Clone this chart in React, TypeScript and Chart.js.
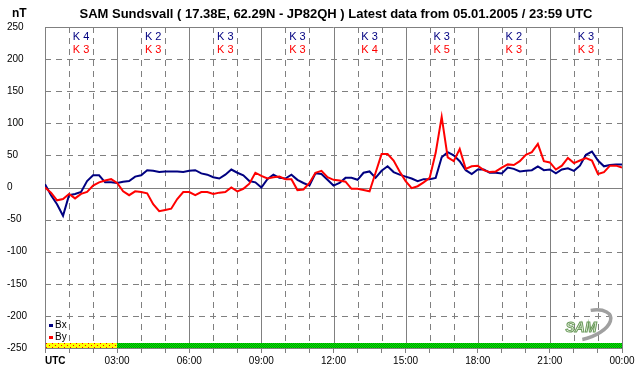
import React, { useEffect, useRef } from 'react';
import { Chart, registerables } from 'chart.js';

Chart.register(...registerables);

const FONT = '"Liberation Sans", Arial, sans-serif';

// Samples every 15 minutes, 00:00 .. 24:00 UTC (nT)
const bxValues = [
  5, -12, -26, -44, -12, -10, -7, 10, 19, 19, 8, 8, 7, 9, 10, 17,
  19, 27, 26, 24, 25, 25, 25, 24, 26, 27, 22, 20, 16, 14, 20, 28,
  23, 19, 10, 8, 0, 13, 20, 15, 14, 20, 12, 7, 3, 22, 21, 12,
  3, 7, 15, 15, 12, 23, 25, 15, 26, 33, 24, 20, 17, 14, 10, 13,
  13, 15, 47, 55, 50, 41, 27, 21, 28, 28, 23, 23, 22, 31, 29, 25,
  26, 27, 33, 27, 28, 22, 28, 30, 26, 34, 51, 56, 42, 33, 35, 36,
  36,
];
const byValues = [
  0, -8, -20, -18, -10, -17, -10, -7, 3, 8, 11, 13, 7, -6, -12, -6,
  -7, -9, -26, -37, -35, -33, -18, -7, -7, -12, -7, -7, -10, -8, -7, 0,
  -6, -2, 6, 23, 18, 14, 16, 17, 13, 13, -4, -3, 7, 23, 26, 16,
  12, 11, 9, -2, -2, -4, -6, 23, 52, 52, 42, 25, 10, -1, 2, 8,
  15, 54, 110, 47, 41, 60, 29, 33, 34, 27, 24, 25, 31, 36, 35, 41,
  51, 55, 68, 41, 39, 28, 34, 46, 38, 42, 46, 42, 21, 24, 34, 34,
  31,
];
const sampleStepHours = 0.25;
const kBx = [4, 2, 3, 3, 3, 3, 2, 3];
const kBy = [3, 3, 3, 3, 4, 5, 3, 3];
const xLabels = ['UTC', '03:00', '06:00', '09:00', '12:00', '15:00', '18:00', '21:00', '00:00'];
const yTickValues = [250, 200, 150, 100, 50, 0, -50, -100, -150, -200, -250];
const hourTicks = Array.from({ length: 25 }, (_, i) => i);
const titleText = 'SAM Sundsvall ( 17.38E, 62.29N - JP82QH ) Latest data from 05.01.2005 / 23:59 UTC';

const BX_COLOR = '#000080';
const BY_COLOR = '#ff0000';
const GRID = '#808080';

function makePattern(ctx: CanvasRenderingContext2D, kind: 'green' | 'yellow') {
  const c = document.createElement('canvas');
  if (kind === 'green') {
    c.width = 2; c.height = 2;
    const g = c.getContext('2d')!;
    g.fillStyle = '#00f000'; g.fillRect(0, 0, 2, 2);
    g.fillStyle = '#009000'; g.fillRect(0, 0, 1, 1); g.fillRect(1, 1, 1, 1);
  } else {
    c.width = 6; c.height = 4;
    const g = c.getContext('2d')!;
    g.fillStyle = '#ffff00'; g.fillRect(0, 0, 6, 4);
    g.fillStyle = '#ff0000'; g.fillRect(1, 1, 1, 1); g.fillRect(4, 3, 1, 1);
  }
  return ctx.createPattern(c, 'repeat')!;
}

const decorPlugin = {
  id: 'decor',
  beforeDatasetsDraw(chart: any) {
    const { ctx, chartArea: a, scales } = chart;
    const x = scales.x, y = scales.y;
    ctx.save();
    ctx.strokeStyle = GRID;
    ctx.lineWidth = 1;
    for (const v of yTickValues) {
      const py = Math.round(y.getPixelForValue(v)) + 0.5;
      ctx.setLineDash(v === 0 || v === 250 || v === -250 ? [] : [6, 5]);
      ctx.beginPath(); ctx.moveTo(a.left, py); ctx.lineTo(a.right, py); ctx.stroke();
    }
    for (const h of hourTicks) {
      const px = Math.round(x.getPixelForValue(h)) + 0.5;
      ctx.setLineDash(h % 3 === 0 ? [] : [6, 5]);
      ctx.beginPath(); ctx.moveTo(px, a.top); ctx.lineTo(px, a.bottom); ctx.stroke();
    }
    ctx.restore();
  },
  afterDatasetsDraw(chart: any) {
    const { ctx, chartArea: a, scales } = chart;
    const x = scales.x;
    ctx.save();
    // status bar
    const x0 = Math.round(x.getPixelForValue(0)) + 1;
    const x3 = Math.round(x.getPixelForValue(3));
    const x24 = Math.round(x.getPixelForValue(24));
    const barTop = Math.round(a.bottom) - 5;
    ctx.fillStyle = makePattern(ctx, 'yellow');
    ctx.fillRect(x0, barTop, x3 - x0, 5);
    ctx.fillStyle = makePattern(ctx, 'green');
    ctx.fillRect(x3, barTop, x24 - x3, 5);

    // K indices
    ctx.font = `11px ${FONT}`;
    ctx.textAlign = 'center';
    ctx.textBaseline = 'middle';
    kBx.forEach((k, i) => {
      const px = x.getPixelForValue(i * 3 + 1.5);
      ctx.fillStyle = BX_COLOR;
      ctx.fillText(`K ${k}`, px, 37);
      ctx.fillStyle = BY_COLOR;
      ctx.fillText(`K ${kBy[i]}`, px, 50);
    });

    // legend
    ctx.font = `10px ${FONT}`;
    ctx.textAlign = 'left';
    ctx.fillStyle = BX_COLOR; ctx.fillRect(a.left + 4, 324, 4, 3);
    ctx.fillStyle = '#000'; ctx.fillText('Bx', a.left + 10, 325);
    ctx.fillStyle = BY_COLOR; ctx.fillRect(a.left + 4, 336, 4, 3);
    ctx.fillStyle = '#000'; ctx.fillText('By', a.left + 10, 337);

    // logo
    ctx.save();
    ctx.strokeStyle = '#a0a0a0';
    ctx.lineWidth = 3.5;
    ctx.beginPath();
    ctx.ellipse(586, 325, 26, 13, -0.35, -1.2, 1.9);
    ctx.stroke();
    ctx.font = `italic bold 14px ${FONT}`;
    ctx.textAlign = 'center';
    ctx.lineWidth = 1;
    ctx.strokeStyle = '#6a9a5a';
    ctx.fillStyle = '#eef6e8';
    ctx.fillText('SAM', 581, 328);
    ctx.strokeText('SAM', 581, 328);
    ctx.restore();

    // title & unit
    ctx.fillStyle = '#000';
    ctx.textBaseline = 'middle';
    ctx.font = `bold 13px ${FONT}`;
    ctx.textAlign = 'center';
    ctx.fillText(titleText, 336, 14);
    ctx.textAlign = 'left';
    ctx.font = `bold 12px ${FONT}`;
    ctx.fillText('nT', 12, 14);
    ctx.font = `bold 10px ${FONT}`;
    ctx.fillText('UTC', a.left, 361);
    ctx.restore();
  },
};

export default function App() {
  const ref = useRef<HTMLCanvasElement | null>(null);
  useEffect(() => {
    document.body.style.margin = '0';
    const canvas = ref.current!;
    const times = bxValues.map((_, i) => i * sampleStepHours);
    const chart = new Chart(canvas, {
      type: 'line',
      data: {
        datasets: [
          {
            label: 'By',
            data: byValues.map((v, i) => ({ x: times[i], y: v })),
            borderColor: BY_COLOR,
            borderWidth: 2,
            pointRadius: 0,
            tension: 0,
            fill: false,
          },
          {
            label: 'Bx',
            data: bxValues.map((v, i) => ({ x: times[i], y: v })),
            borderColor: BX_COLOR,
            borderWidth: 2,
            pointRadius: 0,
            tension: 0,
            fill: false,
          },
        ],
      },
      options: {
        animation: false,
        responsive: false,
        devicePixelRatio: 1,
        layout: { padding: { left: 7, top: 27, right: 20, bottom: 0 } },
        plugins: {
          legend: { display: false },
          tooltip: { enabled: false },
          title: { display: false },
        },
        scales: {
          x: {
            type: 'linear',
            min: 0,
            max: 24,
            afterBuildTicks: (s: any) => { s.ticks = hourTicks.map((v) => ({ value: v })); },
            afterFit: (s: any) => { s.height = 28; },
            ticks: {
              autoSkip: false,
              maxRotation: 0,
              minRotation: 0,
              padding: 2,
              color: '#000',
              font: { family: FONT, size: 10 },
              callback: (v: any) => (v % 3 === 0 && v > 0 ? xLabels[v / 3] : ''),
            },
            grid: { drawOnChartArea: false, drawTicks: true, tickLength: 5, color: GRID },
            border: { display: false },
          },
          y: {
            min: -250,
            max: 250,
            afterBuildTicks: (s: any) => { s.ticks = yTickValues.map((v) => ({ value: v })); },
            afterFit: (s: any) => { s.width = 38; },
            ticks: {
              crossAlign: 'far',
              padding: 0,
              color: '#000',
              font: { family: FONT, size: 10 },
            },
            grid: { drawOnChartArea: false, drawTicks: false },
            border: { display: false },
          },
        },
      } as any,
      plugins: [decorPlugin],
    });
    return () => chart.destroy();
  }, []);
  return (
    <div style={{ width: 642, height: 376, background: '#fff' }}>
      <canvas ref={ref} width={642} height={376} style={{ display: 'block' }} />
    </div>
  );
}
